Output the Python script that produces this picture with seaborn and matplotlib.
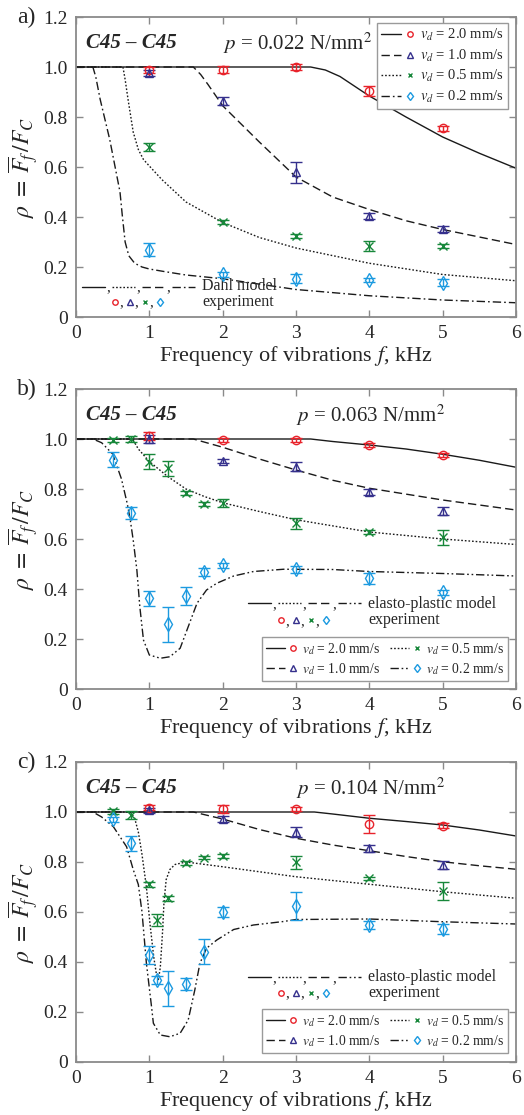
import numpy as np
import pandas as pd
import matplotlib
matplotlib.use("Agg")
import matplotlib.pyplot as plt
import seaborn as sns
from matplotlib.lines import Line2D
from matplotlib.legend_handler import HandlerBase
from matplotlib.ticker import FixedLocator, FuncFormatter

# ---------------------------------------------------------------- data
speeds = ["2.0", "1.0", "0.5", "0.2"]
pressures = ["0.022", "0.063", "0.104"]

# panel a) p = 0.022 N/mm^2 -- experiment
a_f = [1, 2, 3, 4, 5]
a_rho_20 = [0.99, 0.99, 1.0, 0.905, 0.755]
a_err_20 = [0.012, 0.015, 0.012, 0.02, 0.01]
a_rho_10 = [0.978, 0.865, 0.58, 0.405, 0.352]
a_err_10 = [0.012, 0.015, 0.042, 0.012, 0.012]
a_rho_05 = [0.68, 0.38, 0.325, 0.283, 0.285]
a_err_05 = [0.015, 0.008, 0.008, 0.02, 0.008]
a_rho_02 = [0.27, 0.172, 0.154, 0.147, 0.137]
a_err_02 = [0.025, 0.01, 0.018, 0.008, 0.014]

# panel a) Dahl model
a_mf_20 = [0, 3.2, 3.4, 3.6, 4.0, 4.5, 5.0, 5.5, 6.0]
a_mr_20 = [1, 1, 0.988, 0.962, 0.884, 0.80, 0.72, 0.655, 0.595]
a_mf_10 = [0, 1.6, 1.7, 1.8, 2.0, 2.5, 3.0, 3.5, 4.0, 4.5, 5.0, 5.5, 6.0]
a_mr_10 = [1, 1, 0.97, 0.93, 0.845, 0.70, 0.56, 0.48, 0.43, 0.385, 0.35, 0.32, 0.29]
a_mf_05 = [0, 0.64, 0.67, 0.71, 0.78, 0.85, 0.92, 1.0, 1.17, 1.5, 2.0, 2.5, 3.0, 4.0, 5.0, 6.0]
a_mr_05 = [1, 1, 0.95, 0.87, 0.74, 0.67, 0.63, 0.604, 0.55, 0.46, 0.378, 0.318, 0.276, 0.215, 0.17, 0.145]
a_mf_02 = [0, 0.23, 0.27, 0.33, 0.46, 0.55, 0.6, 0.63, 0.67, 0.72, 0.8, 0.9, 1.0, 1.2,
           1.5, 2.0, 3.0, 4.0, 5.0, 6.0]
a_mr_02 = [1, 1, 0.96, 0.87, 0.71, 0.575, 0.5, 0.41, 0.3, 0.245, 0.215, 0.2, 0.192, 0.182,
           0.168, 0.153, 0.11, 0.085, 0.068, 0.057]

# panel b) p = 0.063 N/mm^2 -- experiment
b_f_hi = [1, 2, 3, 4, 5]
b_rho_20 = [1.012, 0.997, 0.997, 0.974, 0.937]
b_err_20 = [0.015, 0.008, 0.008, 0.008, 0.008]
b_rho_10 = [1.0, 0.913, 0.889, 0.789, 0.713]
b_err_10 = [0.015, 0.008, 0.018, 0.012, 0.015]
b_f_lo = [0.5, 0.75, 1, 1.25, 1.5, 1.75, 2, 3, 4, 5]
b_rho_05 = [0.996, 1.0, 0.909, 0.883, 0.783, 0.74, 0.743, 0.663, 0.629, 0.607]
b_err_05 = [0.008, 0.012, 0.03, 0.03, 0.008, 0.008, 0.015, 0.022, 0.008, 0.03]
b_rho_02 = [0.916, 0.705, 0.363, 0.26, 0.372, 0.469, 0.495, 0.479, 0.443, 0.387]
b_err_02 = [0.03, 0.025, 0.03, 0.07, 0.035, 0.015, 0.01, 0.015, 0.022, 0.01]

# panel b) elasto-plastic model
b_mf_20 = [0, 3.2, 3.5, 4.0, 4.5, 5.0, 5.5, 6.0]
b_mr_20 = [1, 1, 0.99, 0.976, 0.96, 0.939, 0.915, 0.887]
b_mf_10 = [0, 1.6, 2.0, 2.5, 3.0, 3.5, 4.0, 5.0, 6.0]
b_mr_10 = [1, 1, 0.967, 0.92, 0.876, 0.835, 0.803, 0.756, 0.716]
b_mf_05 = [0, 0.77, 0.85, 1.0, 1.25, 1.5, 1.75, 2.0, 2.5, 3.0, 4.0, 5.0, 6.0]
b_mr_05 = [1, 1, 0.96, 0.91, 0.85, 0.8, 0.77, 0.745, 0.71, 0.677, 0.628, 0.6, 0.578]
b_mf_02 = [0, 0.23, 0.35, 0.5, 0.62, 0.7, 0.74, 0.78, 0.83, 0.87, 0.92, 1.0, 1.15, 1.28,
           1.42, 1.53, 1.65, 1.78, 1.92, 2.15, 2.42, 2.83, 3.5, 4.0, 5.0, 6.0]
b_mr_02 = [1, 1, 0.985, 0.94, 0.84, 0.74, 0.676, 0.596, 0.476, 0.33, 0.196, 0.136, 0.123,
           0.129, 0.163, 0.249, 0.343, 0.396, 0.423, 0.452, 0.47, 0.479, 0.478, 0.47, 0.462, 0.452]

# panel c) p = 0.104 N/mm^2 -- experiment
c_f_hi = [1, 2, 3, 4, 5]
c_rho_20 = [1.017, 1.012, 1.011, 0.952, 0.945]
c_err_20 = [0.01, 0.015, 0.008, 0.035, 0.01]
c_rho_10 = [1.008, 0.971, 0.921, 0.855, 0.788]
c_err_10 = [0.01, 0.012, 0.02, 0.015, 0.015]
c_f_lo = [0.5, 0.75, 1, 1.1, 1.25, 1.5, 1.75, 2, 3, 4, 5]
c_rho_05 = [1.004, 0.988, 0.711, 0.568, 0.655, 0.795, 0.817, 0.825, 0.799, 0.735, 0.684]
c_err_05 = [0.01, 0.015, 0.01, 0.025, 0.01, 0.008, 0.006, 0.008, 0.025, 0.006, 0.035]
c_rho_02 = [0.971, 0.875, 0.428, 0.328, 0.295, 0.312, 0.441, 0.601, 0.624, 0.548, 0.531]
c_err_02 = [0.01, 0.03, 0.035, 0.015, 0.07, 0.025, 0.05, 0.02, 0.055, 0.015, 0.02]

# panel c) elasto-plastic model
c_mf_20 = [0, 3.25, 3.5, 4.0, 4.5, 5.0, 5.5, 6.0]
c_mr_20 = [1, 1, 0.992, 0.975, 0.962, 0.948, 0.928, 0.904]
c_mf_10 = [0, 1.6, 2.0, 2.5, 3.0, 3.5, 4.0, 4.5, 5.0, 5.5, 6.0]
c_mr_10 = [1, 1, 0.972, 0.93, 0.895, 0.868, 0.845, 0.822, 0.801, 0.785, 0.771]
c_mf_05 = [0, 0.74, 0.8, 0.85, 0.9, 0.96, 1.01, 1.06, 1.1, 1.125, 1.15, 1.18, 1.2, 1.23,
           1.28, 1.35, 1.5, 2.0, 3.0, 4.0, 5.0, 6.0]
c_mr_05 = [1, 1, 0.975, 0.92, 0.83, 0.7, 0.55, 0.42, 0.345, 0.33, 0.38, 0.52, 0.64, 0.73,
           0.77, 0.79, 0.8, 0.781, 0.741, 0.711, 0.681, 0.655]
c_mf_02 = [0, 0.23, 0.35, 0.51, 0.69, 0.78, 0.85, 0.9, 0.96, 1.03, 1.055, 1.15, 1.28, 1.42,
           1.53, 1.62, 1.69, 1.78, 1.92, 2.15, 2.42, 2.83, 3.0, 4.0, 5.0, 6.0]
c_mr_02 = [1, 1, 0.98, 0.941, 0.861, 0.77, 0.71, 0.6, 0.395, 0.221, 0.155, 0.108, 0.101,
           0.115, 0.168, 0.288, 0.395, 0.455, 0.488, 0.53, 0.548, 0.562, 0.57, 0.572, 0.561, 0.552]

# ---------------------------------------------------------------- style
sns.set_style("ticks")
plt.rcParams["font.family"] = ["Liberation Serif", "DejaVu Serif"]
plt.rcParams["mathtext.fontset"] = "stix"

COLORS = ["#e8232b", "#35308c", "#17873a", "#1c9ae0"]
MARKERS = ["o", "^", "x", "d"]
MSIZE = [6, 6, 5.5, 7]
SPINE = "#8a8a8a"
LINE_COL = "#1a1a1a"
DASHED = (0, (6, 3))
DOTTED = (0, (1.2, 1.4))
DASHDOT = (0, (6, 2.2, 1.2, 2.2))
DASHDOTDOT = (0, (6, 2, 1.2, 2, 1.2, 2))

fig = plt.figure(figsize=(5.24, 11.15), dpi=100)
W, H = 524.0, 1115.0


class KeyHandle:
    """Legend entry made of a model line sample followed by a data marker."""

    def __init__(self, ls, color, marker, ms):
        self.ls, self.color, self.marker, self.ms = ls, color, marker, ms


class KeyHandler(HandlerBase):
    def create_artists(self, legend, h, xdescent, ydescent, width, height, fontsize, trans):
        y = height / 2 - ydescent
        x0 = -xdescent
        ln = Line2D([x0, x0 + 0.6 * width], [y, y], color=LINE_COL, lw=1.0,
                    linestyle=h.ls, transform=trans)
        mk = Line2D([x0 + 0.86 * width], [y], color=h.color, marker=h.marker,
                    ms=h.ms, mfc="none", mew=1.0, linestyle="none", transform=trans)
        return [ln, mk]


def make_axes(top_px, bottom_px):
    return fig.add_axes([76 / W, 1 - bottom_px / H, 440 / W, (bottom_px - top_px) / H])


def model_line(ax, f, rho, ls):
    df = pd.DataFrame({"f": f, "rho": rho})
    sns.lineplot(data=df, x="f", y="rho", ax=ax, color=LINE_COL, lw=1.0,
                 linestyle=ls, estimator=None, sort=False, zorder=2)


def experiment(ax, f, rho, err, i):
    ax.errorbar(f, rho, yerr=err, fmt=MARKERS[i], ms=MSIZE[i], mfc="none",
                mec=COLORS[i], mew=1.0, ecolor=COLORS[i], elinewidth=1.0,
                capsize=4, capthick=1.0, linestyle="none", zorder=4)


def style_axes(ax, letter, pressure):
    ax.set_xlim(0, 6)
    ax.set_ylim(0, 1.2)
    ax.xaxis.set_major_locator(FixedLocator([0, 1, 2, 3, 4, 5, 6]))
    ax.yaxis.set_major_locator(FixedLocator([0, 0.2, 0.4, 0.6, 0.8, 1.0, 1.2]))
    ax.yaxis.set_major_formatter(FuncFormatter(lambda v, _: "0" if abs(v) < 1e-9 else f"{v:.1f}"))
    ax.tick_params(direction="in", top=True, right=True, length=5, width=1.0,
                   color=SPINE, labelsize=14, pad=6)
    for s in ax.spines.values():
        s.set_color(SPINE)
        s.set_linewidth(1.3)
    ax.set_xlabel("Frequency of vibrations $f$, kHz", fontsize=16, labelpad=1)
    ax.set_ylabel(r"$\rho\;=\;\overline{F}_{\!f}\,/F_C$", fontsize=17, labelpad=2)
    ax.text(0.023, 0.912, "C45 – C45", transform=ax.transAxes, fontsize=15,
            fontweight="bold", fontstyle="italic", va="center", ha="left")
    px = 0.333 if letter == "a" else 0.5
    ax.text(px, 0.912, f"$p$ = {pressure} N/mm$^2$", transform=ax.transAxes,
            fontsize=15, va="center", ha="left")
    bb = ax.get_position()
    fig.text(17 / W, bb.y1, f"{letter})", fontsize=17, va="center", ha="left")


def speed_legend(ax, dd_style, loc, anchor, ncol, fs):
    styles = ["-", DASHED, DOTTED, dd_style]
    handles = [KeyHandle(styles[i], COLORS[i], MARKERS[i], MSIZE[i] * 0.65) for i in range(4)]
    labels = [f"$v_d$ = {s} mm/s" for s in speeds]
    leg = ax.legend(handles, labels, handler_map={KeyHandle: KeyHandler()},
                    loc=loc, bbox_to_anchor=anchor, ncol=ncol, fontsize=fs,
                    handlelength=2.3, handletextpad=0.35, labelspacing=0.3,
                    columnspacing=0.7, borderpad=0.3, borderaxespad=0,
                    fancybox=False, framealpha=1, edgecolor="#9a9a9a")
    leg.get_frame().set_linewidth(1.0)
    leg.set_zorder(6)


def model_key(ax, x0, y_line, y_mark, x_text, text, dd_style):
    styles = ["-", DOTTED, DASHED, dd_style]
    seg, pitch = 23 / 440, 30 / 440
    for k, ls in enumerate(styles):
        xs = x0 + k * pitch
        ax.plot([xs, xs + seg], [y_line, y_line], transform=ax.transAxes,
                color=LINE_COL, lw=1.0, linestyle=ls, clip_on=False)
        if k < 3:
            ax.text(xs + seg + 1 / 440, y_line - 0.004, ",", transform=ax.transAxes,
                    fontsize=11, ha="left", va="center")
    mx0 = x0 + 33 / 440
    mpitch = 15 / 440
    for k in range(4):
        xm = mx0 + k * mpitch
        ax.plot([xm], [y_mark], transform=ax.transAxes, marker=MARKERS[k],
                color=COLORS[k], ms=MSIZE[k] * 0.65, mfc="none", mew=1.0,
                linestyle="none", clip_on=False)
        if k < 3:
            ax.text(xm + 4 / 440, y_mark - 0.004, ",", transform=ax.transAxes,
                    fontsize=11, ha="left", va="center")
    ax.text(x_text, (y_line + y_mark) / 2, text, transform=ax.transAxes,
            fontsize=11.5, ha="left", va="center", linespacing=1.0)


# ---------------------------------------------------------------- panel a
ax = make_axes(17, 317)
for (mf, mr), ls in zip([(a_mf_20, a_mr_20), (a_mf_10, a_mr_10), (a_mf_05, a_mr_05),
                         (a_mf_02, a_mr_02)], ["-", DASHED, DOTTED, DASHDOT]):
    model_line(ax, mf, mr, ls)
for i, (r, e) in enumerate([(a_rho_20, a_err_20), (a_rho_10, a_err_10),
                            (a_rho_05, a_err_05), (a_rho_02, a_err_02)]):
    experiment(ax, a_f, r, e, i)
style_axes(ax, "a", pressures[0])
speed_legend(ax, DASHDOT, "upper right", (0.982, 0.98), 1, 10.5)
model_key(ax, 6 / 440, 0.101, 0.051, 126 / 440, "Dahl model\nexperiment", DASHDOT)

# ---------------------------------------------------------------- panel b
ax = make_axes(389, 689)
for (mf, mr), ls in zip([(b_mf_20, b_mr_20), (b_mf_10, b_mr_10), (b_mf_05, b_mr_05),
                         (b_mf_02, b_mr_02)], ["-", DASHED, DOTTED, DASHDOTDOT]):
    model_line(ax, mf, mr, ls)
for i, (fx, r, e) in enumerate([(b_f_hi, b_rho_20, b_err_20), (b_f_hi, b_rho_10, b_err_10),
                                (b_f_lo, b_rho_05, b_err_05), (b_f_lo, b_rho_02, b_err_02)]):
    experiment(ax, fx, r, e, i)
style_axes(ax, "b", pressures[1])
speed_legend(ax, DASHDOTDOT, "lower right", (0.982, 0.027), 2, 9.8)
model_key(ax, 172 / 440, 0.286, 0.23, 292 / 440, "elasto-plastic model\nexperiment", DASHDOTDOT)

# ---------------------------------------------------------------- panel c
ax = make_axes(762, 1062)
for (mf, mr), ls in zip([(c_mf_20, c_mr_20), (c_mf_10, c_mr_10), (c_mf_05, c_mr_05),
                         (c_mf_02, c_mr_02)], ["-", DASHED, DOTTED, DASHDOTDOT]):
    model_line(ax, mf, mr, ls)
for i, (fx, r, e) in enumerate([(c_f_hi, c_rho_20, c_err_20), (c_f_hi, c_rho_10, c_err_10),
                                (c_f_lo, c_rho_05, c_err_05), (c_f_lo, c_rho_02, c_err_02)]):
    experiment(ax, fx, r, e, i)
style_axes(ax, "c", pressures[2])
speed_legend(ax, DASHDOTDOT, "lower right", (0.982, 0.03), 2, 9.8)
model_key(ax, 172 / 440, 0.2825, 0.231, 292 / 440, "elasto-plastic model\nexperiment", DASHDOTDOT)

fig.savefig("out.png", dpi=100)
